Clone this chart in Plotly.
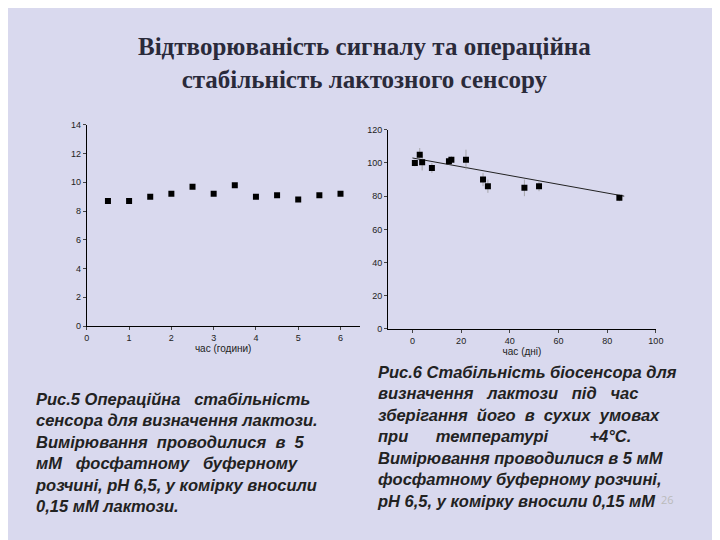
import plotly.graph_objects as go

# left chart: operational stability
hours = [0.5, 1, 1.5, 2, 2.5, 3, 3.5, 4, 4.5, 5, 5.5, 6]
signal = [8.7, 8.7, 9.0, 9.2, 9.7, 9.2, 9.8, 9.0, 9.1, 8.8, 9.1, 9.2]

# right chart: storage stability
days = [1, 3, 4, 8, 15, 16, 22, 29, 31, 46, 52, 85]
activity = [100, 105, 100.5, 97, 101, 102, 102, 90, 86, 85, 86, 79]
activity_err = [2, 4, 5, 3, 2, 2, 6, 4, 4, 5, 3, 2]
fit_x = [0, 87]
fit_y = [103, 80]

title = "Відтворюваність сигналу та операційна<br>стабільність лактозного сенсору"
caption_left = ("<i><b>Рис.5</b> Операційна   стабільність<br>сенсора для визначення лактози.<br>"
                "Вимірювання  проводилися  в  5<br>мМ   фосфатному   буферному<br>"
                "розчині, рН 6,5, у комірку вносили<br>0,15 мМ лактози.</i>")
caption_right = ("<i>Рис.6 Стабільність біосенсора для<br>визначення   лактози   під   час<br>"
                 "зберігання  його  в  сухих  умовах<br>при      температурі         +4°С.<br>"
                 "Вимірювання проводилися в 5 мМ<br>фосфатному буферному розчині,<br>"
                 "рН 6,5, у комірку вносили 0,15 мМ</i>")

W, H, OFF = 712, 532, 8


def px(x):
    return (x - OFF) / W


def py(y):
    return 1 - (y - OFF) / H


fig = go.Figure()
fig.add_trace(go.Scatter(x=hours, y=signal, mode='markers',
                         marker=dict(symbol='square', size=6, color='black'),
                         xaxis='x', yaxis='y'))
fig.add_trace(go.Scatter(x=fit_x, y=fit_y, mode='lines',
                         line=dict(color='#222', width=1), xaxis='x2', yaxis='y2'))
fig.add_trace(go.Scatter(x=days, y=activity, mode='markers',
                         marker=dict(symbol='square', size=6, color='black'),
                         error_y=dict(array=activity_err, color='#999', thickness=0.8, width=0),
                         xaxis='x2', yaxis='y2'))

ax = dict(showgrid=False, zeroline=False, showline=True, linecolor='black', linewidth=1,
          ticks='outside', ticklen=3, tickfont=dict(size=9, family='Arial', color='#222'),
          title_font=dict(size=10, family='Arial', color='#222'), title_standoff=2)
fig.update_layout(
    width=W, height=H, showlegend=False,
    paper_bgcolor='#d9d9ee', plot_bgcolor='rgba(0,0,0,0)',
    margin=dict(l=0, r=0, t=0, b=0),
    xaxis=dict(ax, domain=[px(85), px(362)], range=[0, 6.45], dtick=1, title_text='час (години)', anchor='y'),
    yaxis=dict(ax, domain=[py(327), py(122)], range=[0, 14], dtick=2, anchor='x'),
    xaxis2=dict(ax, domain=[px(391), px(663)], range=[-10, 100], dtick=20, title_text='час (дні)', anchor='y2'),
    yaxis2=dict(ax, domain=[py(330), py(127)], range=[0, 120], dtick=20, anchor='x2'),
    annotations=[
        dict(text=title, x=px(367), y=py(26), xref='paper', yref='paper', showarrow=False,
             yanchor='top', font=dict(size=25, family='Liberation Serif', color='#2a2a3a', weight='bold')),
        dict(text=caption_left, x=px(30), y=py(390), xref='paper', yref='paper', showarrow=False,
             xanchor='left', yanchor='top', align='left',
             font=dict(size=16.5, family='Liberation Sans', color='#222', weight='bold')),
        dict(text=caption_right, x=px(378), y=py(363), xref='paper', yref='paper', showarrow=False,
             xanchor='left', yanchor='top', align='left',
             font=dict(size=16.5, family='Liberation Sans', color='#222', weight='bold')),
        dict(text='26', x=px(683), y=py(513), xref='paper', yref='paper', showarrow=False,
             font=dict(size=11, color='#bbb')),
    ],
)
fig.write_html("out.html")
